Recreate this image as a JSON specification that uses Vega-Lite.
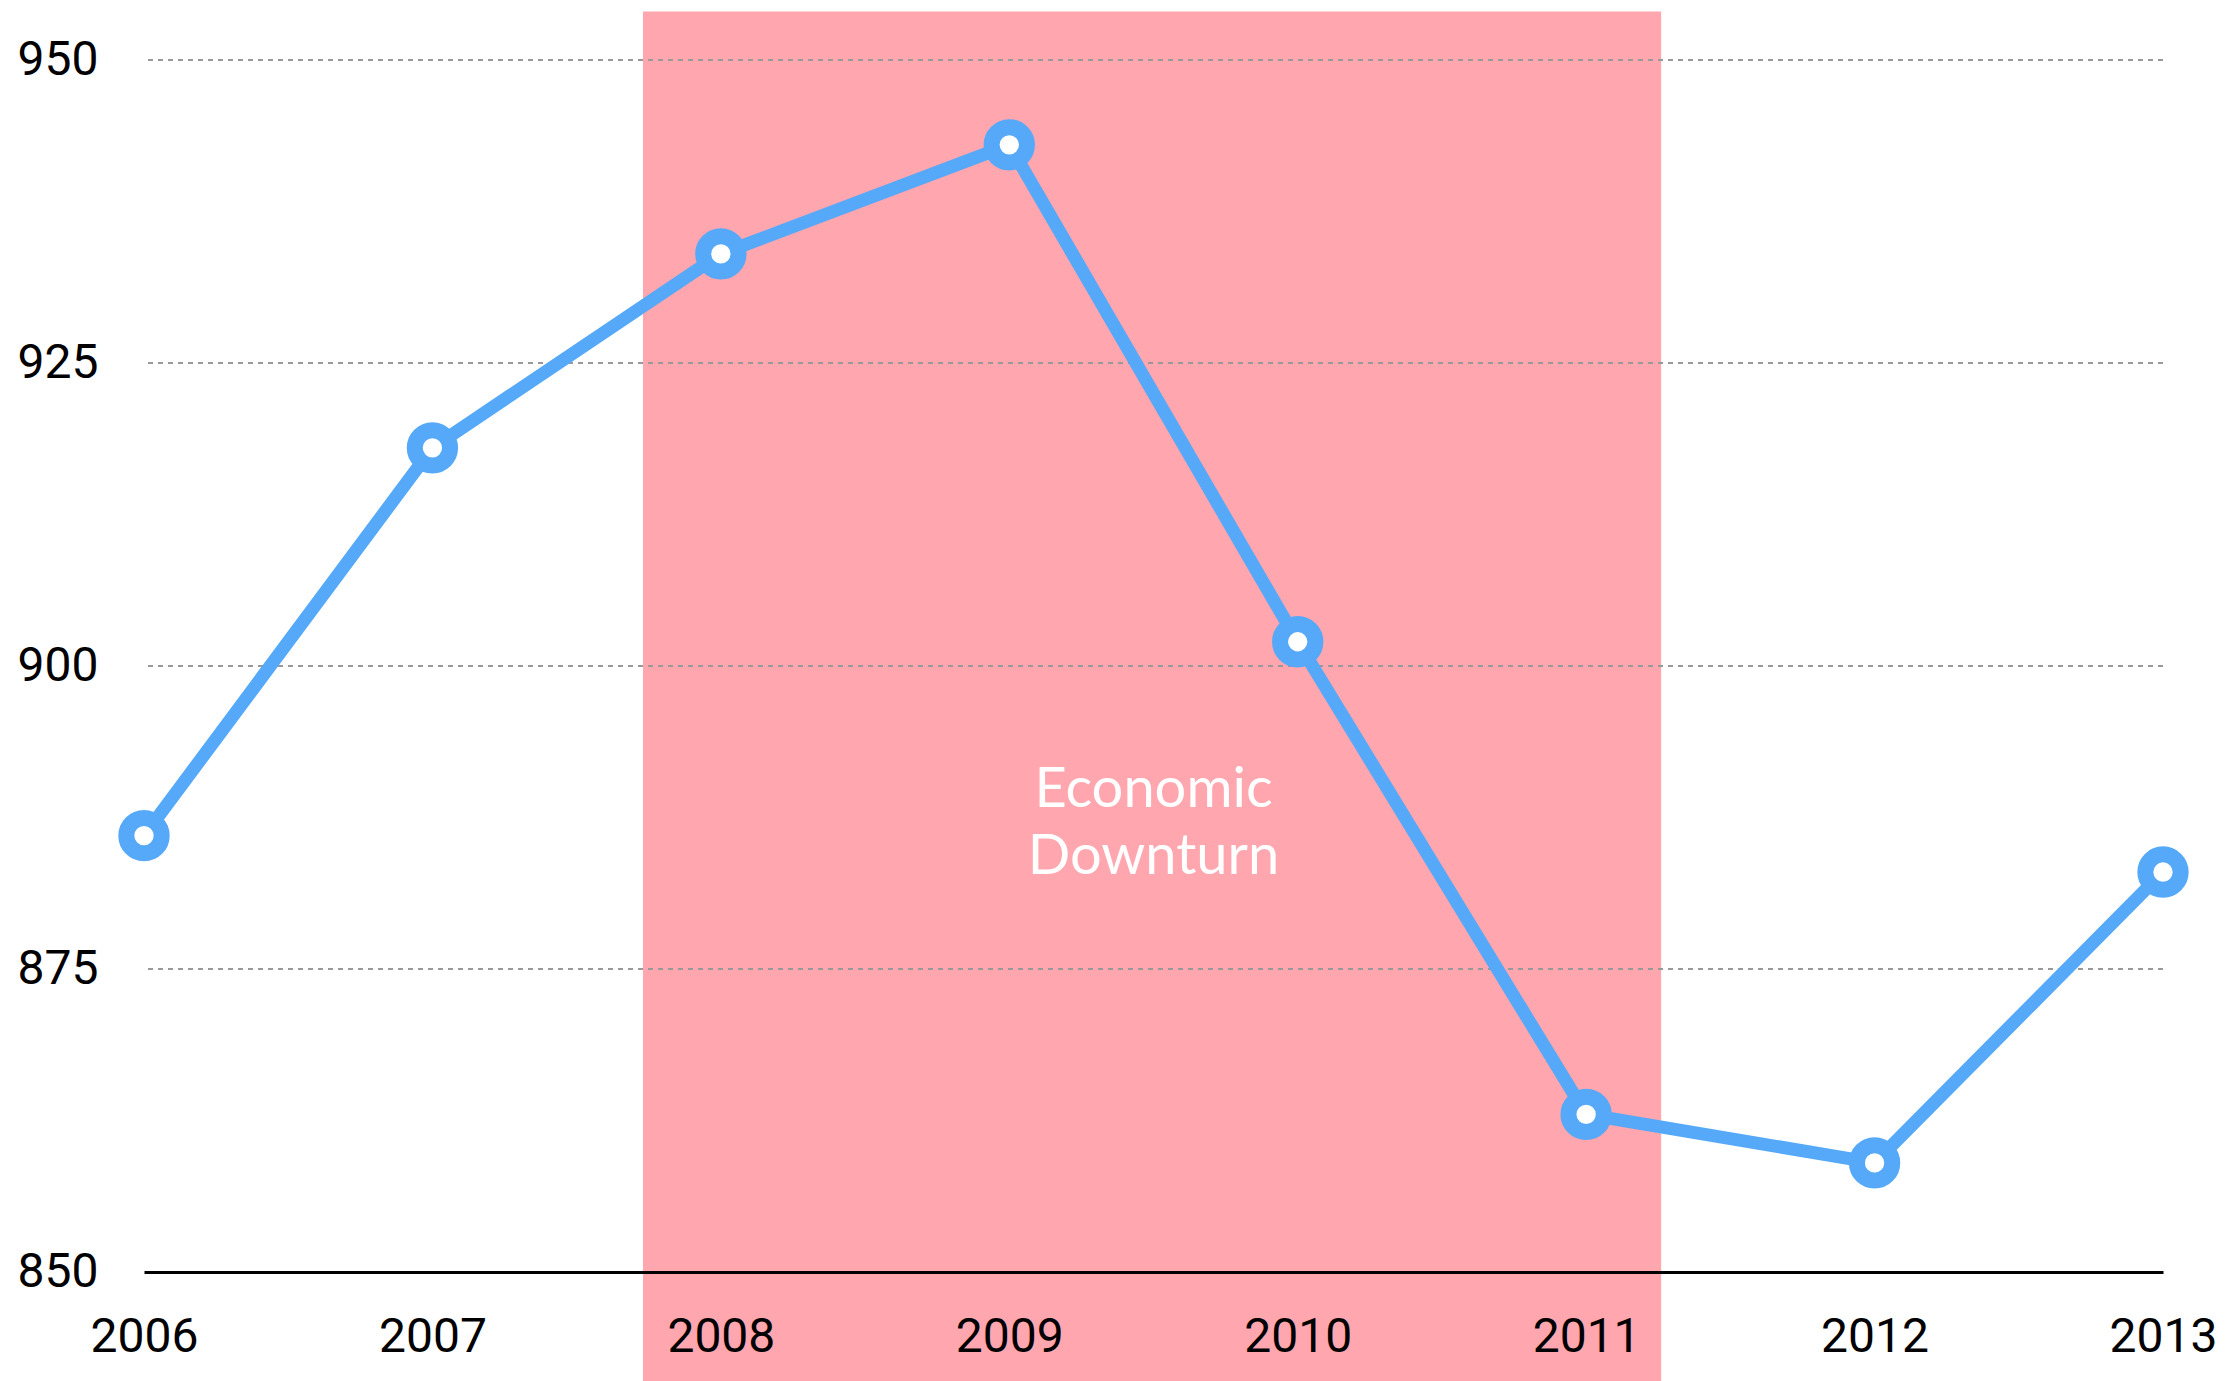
{
  "$schema": "https://vega.github.io/schema/vega-lite/v6.json",
  "width": 2019,
  "height": 1212,
  "autosize": {"type": "none"},
  "padding": {"left": 144, "top": 60, "right": 76, "bottom": 109},
  "background": "white",
  "config": {"view": {"stroke": null}, "font": "Roboto"},
  "datasets": {
    "series": [
      {"year": 2006, "value": 886},
      {"year": 2007, "value": 918},
      {"year": 2008, "value": 934},
      {"year": 2009, "value": 943},
      {"year": 2010, "value": 902},
      {"year": 2011, "value": 863},
      {"year": 2012, "value": 859},
      {"year": 2013, "value": 883}
    ],
    "band": [{"start": 2007.73, "end": 2011.26, "low": 841, "high": 954}],
    "grid": [{"v": 875}, {"v": 900}, {"v": 925}, {"v": 950}],
    "note": [{"year": 2009.5, "value": 889.8, "label": "Economic\nDownturn"}]
  },
  "layer": [
    {
      "data": {"name": "band"},
      "mark": {"type": "rect", "color": "#FFA6AE"},
      "encoding": {
        "x": {"field": "start", "type": "quantitative", "scale": {"domain": [2006, 2013], "nice": false, "zero": false},
          "axis": {"title": null, "format": "d", "values": [2006, 2007, 2008, 2009, 2010, 2011, 2012, 2013], "grid": false, "ticks": false, "domain": true, "domainColor": "black", "domainWidth": 3, "labelFontSize": 48, "labelColor": "black", "labelBaseline": "middle", "labelPadding": 65, "labelFont": "Roboto", "labelFlush": false, "labelOverlap": false, "zindex": 1}},
        "x2": {"field": "end"},
        "y": {"field": "low", "type": "quantitative", "scale": {"domain": [850, 950], "nice": false, "zero": false},
          "axis": {"title": null, "values": [850, 875, 900, 925, 950], "grid": false, "ticks": false, "domain": false, "labelFontSize": 48, "labelColor": "black", "labelAlign": "left", "labelBaseline": "middle", "labelPadding": 127, "labelFont": "Roboto", "labelFlush": false, "labelOverlap": false}},
        "y2": {"field": "high"}
      }
    },
    {
      "data": {"name": "grid"},
      "mark": {"type": "rule", "color": "#999999", "strokeWidth": 2, "strokeDash": [5, 5]},
      "encoding": {"y": {"field": "v", "type": "quantitative"}}
    },
    {
      "data": {"name": "note"},
      "mark": {"type": "text", "color": "white", "fontSize": 56, "font": "Lato", "fontWeight": 400, "lineBreak": "\n", "lineHeight": 67, "align": "center", "baseline": "middle"},
      "encoding": {
        "x": {"field": "year", "type": "quantitative"},
        "y": {"field": "value", "type": "quantitative"},
        "text": {"field": "label"}
      }
    },
    {
      "data": {"name": "series"},
      "mark": {"type": "line", "color": "#55A9F8", "strokeWidth": 13, "strokeJoin": "round"},
      "encoding": {
        "x": {"field": "year", "type": "quantitative"},
        "y": {"field": "value", "type": "quantitative"}
      }
    },
    {
      "data": {"name": "series"},
      "mark": {"type": "point", "shape": "circle", "filled": false, "fill": "white", "fillOpacity": 1, "stroke": "#55A9F8", "strokeWidth": 16, "size": 1250, "opacity": 1},
      "encoding": {
        "x": {"field": "year", "type": "quantitative"},
        "y": {"field": "value", "type": "quantitative"}
      }
    }
  ]
}
